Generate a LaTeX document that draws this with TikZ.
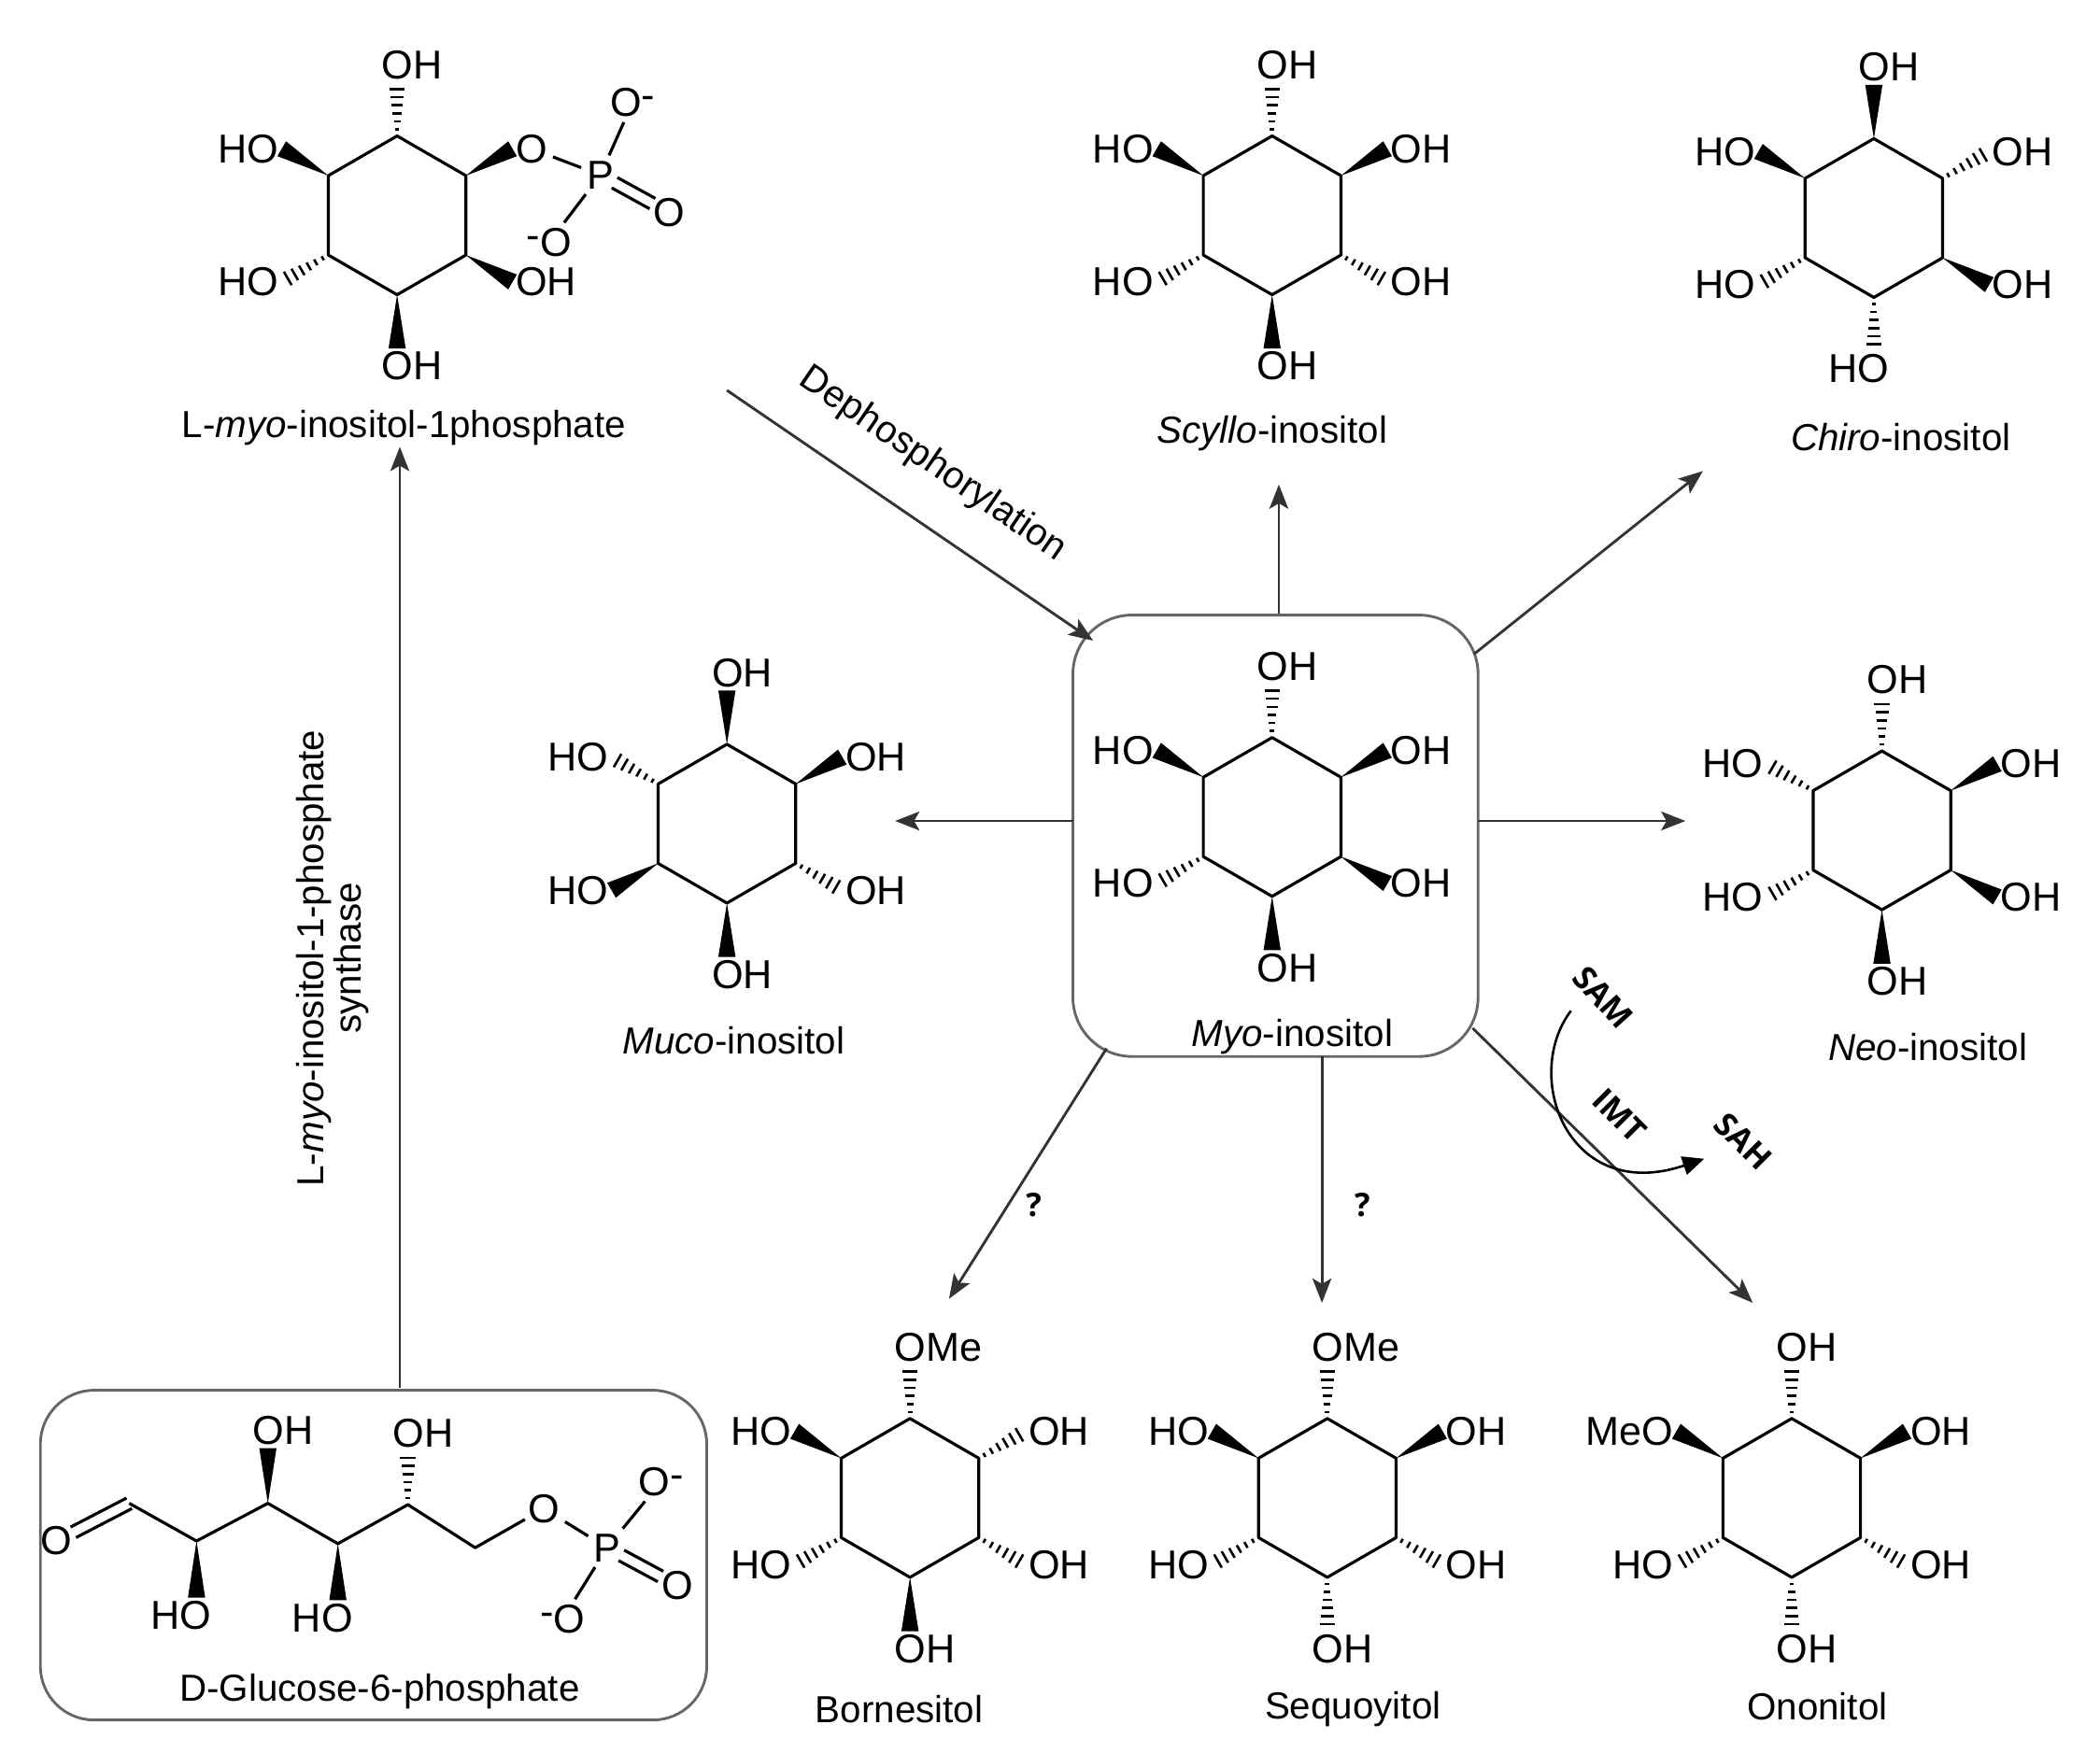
\documentclass[tikz,border=0pt]{standalone}
\usepackage{fontspec}
\setmainfont{Liberation Sans}
\newfontfamily\osf{Open Sans}
\usetikzlibrary{calc,arrows.meta}
\tikzset{
 bond/.style={line width=1.1pt,line join=round},
 atom/.style={font=\fontsize{15}{15}\selectfont,inner sep=1pt},
 mname/.style={font=\fontsize{14}{14}\selectfont,inner sep=1pt},
 conn/.style={line width=1pt,draw=black!80,-{Stealth[length=9pt,width=7pt,inset=2pt]}},
 frame/.style={draw=black!60,line width=1pt,rounded corners=22pt},
 small/.style={font=\osf\bfseries\fontsize{12}{12}\selectfont,inner sep=1pt}
}
\newcommand\bdw{\fill (v) -- ($(e)!3.2pt!90:(v)$) -- ($(e)!3.2pt!-90:(v)$) -- cycle;}
\newcommand\bdh{\foreach \tt in {0.12,0.27,0.42,0.57,0.72,0.87,1.0}{%
  \coordinate (p) at ($(v)!\tt!(e)$);
  \pgfmathsetmacro\ww{0.5+2.7*\tt}
  \draw[line width=0.9pt] ($(p)!\ww pt!90:(e)$) -- ($(p)!\ww pt!-90:(e)$);}}
\newcommand\bdp{\draw[bond] (v) -- (e);}
\newcommand\lbtop[1]{\node[atom,anchor=south west,xshift=-6.8pt] at (e) {#1};}
\newcommand\lbbot[1]{\edef\tmpa{#1}\def\tmpb{HO}%
  \ifx\tmpa\tmpb\node[atom,anchor=north east,xshift=6.8pt] at (e) {#1};%
  \else\node[atom,anchor=north west,xshift=-6.8pt] at (e) {#1};\fi}
\newcommand\lbright[1]{\node[atom,anchor=west] at (e) {#1};}
\newcommand\lbleft[1]{\node[atom,anchor=east] at (e) {#1};}
\expandafter\def\csname lb90\endcsname{\lbtop}
\expandafter\def\csname lb270\endcsname{\lbbot}
\expandafter\def\csname lb30\endcsname{\lbright}
\expandafter\def\csname lb330\endcsname{\lbright}
\expandafter\def\csname lb150\endcsname{\lbleft}
\expandafter\def\csname lb210\endcsname{\lbleft}
\newcommand\mol[4]{%
 \begin{scope}[shift={(#2,#3)}]
 \coordinate (#1) at (0,0);
 \draw[bond] (0,-59) -- (51.1,-29.5) -- (51.1,29.5) -- (0,59) -- (-51.1,29.5) -- (-51.1,-29.5) -- cycle;
 \foreach \a/\t/\l in {#4}{%
  \coordinate (v) at ({59*cos(\a)},{-59*sin(\a)});
  \coordinate (e) at ({99*cos(\a)},{-99*sin(\a)});
  \csname bd\t\endcsname
  \csname lb\a\endcsname{\l}
 }
 \end{scope}}
% double bond between two named nodes, shortened
\newcommand\dbl[4]{%
 \draw[bond,shorten <=#3,shorten >=#4] ($(#1)!2.2pt!90:(#2)$) -- ($(#2)!2.2pt!-90:(#1)$);
 \draw[bond,shorten <=#3,shorten >=#4] ($(#1)!2.2pt!-90:(#2)$) -- ($(#2)!2.2pt!90:(#1)$);}
\begin{document}
\begin{tikzpicture}[x=0.5pt,y=-0.5pt]
\useasboundingbox[fill=white] (0,0) rectangle (1560,1302.5);
% frames
\draw[frame] (797,457) rectangle (1098,785);
\draw[frame,rounded corners=20pt] (30,1033) rectangle (525,1278);
% molecules
\mol{m1}{295}{160}{90/h/OH,150/w/HO,210/h/HO,270/w/OH,330/w/OH}
\begin{scope}[shift={(295,160)}]
 \coordinate (v) at ({59*cos(30)},{-59*sin(30)});
 \coordinate (e) at ({99*cos(30)},{-99*sin(30)});
 \bdw
 \node[atom,anchor=west] (pO) at (e) {O};
\end{scope}
\node[atom] (pP) at (446,130) {P};
\node[atom] (pO1) at (470,76) {O\raisebox{0.35ex}{-}};
\node[atom] (pO2) at (497,158) {O};
\node[atom] (pO3) at (408,180) {\raisebox{0.35ex}{-}O};
\draw[bond,shorten <=1pt,shorten >=1pt] (pO) -- (pP);
\draw[bond,shorten <=1pt,shorten >=1pt] (pP) -- (pO1);
\draw[bond,shorten <=1pt,shorten >=1pt] (pP) -- (pO3);
\dbl{pP}{pO2}{6pt}{7pt}
\node[mname] (n1) at (300,318) {L-\textit{myo}-inositol-1phosphate};

\mol{m2}{945}{160}{90/h/OH,150/w/HO,30/w/OH,210/h/HO,330/h/OH,270/w/OH}
\node[mname] (n2) at (945,322) {\textit{Scyllo}-inositol};
\mol{m3}{1392}{162}{90/w/OH,150/w/HO,30/h/OH,210/h/HO,330/w/OH,270/h/HO}
\node[mname] (n3) at (1412,325) {\textit{Chiro}-inositol};
\mol{m4}{540}{612}{90/w/OH,150/h/HO,30/w/OH,210/w/HO,330/h/OH,270/w/OH}
\node[mname] (n4) at (545,773) {\textit{Muco}-inositol};
\mol{m5}{945}{607}{90/h/OH,150/w/HO,30/w/OH,210/h/HO,330/w/OH,270/w/OH}
\node[mname] (n5) at (960,770) {\textit{Myo}-inositol};
\mol{m6}{1398}{617}{90/h/OH,150/h/HO,30/w/OH,210/h/HO,330/w/OH,270/w/OH}
\node[mname] (n6) at (1432,778) {\textit{Neo}-inositol};
\mol{m7}{676}{1113}{90/h/OMe,150/w/HO,30/h/OH,210/h/HO,330/h/OH,270/w/OH}
\node[mname] (n7) at (668,1270) {Bornesitol};
\mol{m8}{986}{1113}{90/h/OMe,150/w/HO,30/w/OH,210/h/HO,330/h/OH,270/h/OH}
\node[mname] (n8) at (1005,1270) {Sequoyitol};
\mol{m9}{1331}{1113}{90/h/OH,150/w/MeO,30/w/OH,210/h/HO,330/h/OH,270/h/OH}
\node[mname] (n9) at (1350,1268) {Ononitol};

% glucose-6-phosphate
\node[atom] (gO) at (42,1145) {O};
\coordinate (c1) at (96,1117);
\coordinate (c2) at (146,1145);
\coordinate (c3) at (199,1117);
\coordinate (c4) at (251,1147);
\coordinate (c5) at (303,1118);
\coordinate (c6) at (353,1150);
\node[atom] (gO6) at (404,1121) {O};
\node[atom] (gP) at (451,1150) {P};
\node[atom] (gO1) at (491,1101) {O\raisebox{0.35ex}{-}};
\node[atom] (gO2) at (503,1178) {O};
\node[atom] (gO3) at (418,1203) {\raisebox{0.35ex}{-}O};
\draw[bond] (c1) -- (c2) -- (c3) -- (c4) -- (c5) -- (c6) -- (gO6);
\dbl{gO}{c1}{7pt}{0pt}
\draw[bond,shorten <=1pt,shorten >=1pt] (gO6) -- (gP);
\draw[bond,shorten <=1pt,shorten >=1pt] (gP) -- (gO1);
\draw[bond,shorten <=1pt,shorten >=1pt] (gP) -- (gO3);
\dbl{gP}{gO2}{6pt}{7pt}
\coordinate (v) at (c3); \coordinate (e) at (199,1076); \bdw
\node[atom,anchor=south west,xshift=-6.8pt] at (e) {OH};
\coordinate (v) at (c5); \coordinate (e) at (303,1078); \bdh
\node[atom,anchor=south west,xshift=-6.8pt] at (e) {OH};
\coordinate (v) at (c2); \coordinate (e) at (146,1187); \bdw
\node[atom,anchor=north east,xshift=6.8pt] at (e) {HO};
\coordinate (v) at (c4); \coordinate (e) at (251,1189); \bdw
\node[atom,anchor=north east,xshift=6.8pt] at (e) {HO};
\node[mname] (n10) at (282,1257) {D-Glucose-6-phosphate};

% connectors
\coordinate (a1s) at (297,1031); \coordinate (a1e) at (297,332);
\draw[conn] (a1s) -- (a1e);
\node[mname,rotate=90,align=center] at (247,712) {L-\textit{myo}-inositol-1-phosphate\\synthase};
\coordinate (a2s) at (540,290); \coordinate (a2e) at (812,476);
\draw[conn] (a2s) -- (a2e);
\node[mname,rotate=-34.4] at (693,345) {Dephosphorylation};
\coordinate (a3s) at (950,456); \coordinate (a3e) at (950,360);
\draw[conn] (a3s) -- (a3e);
\coordinate (a4s) at (1095,486); \coordinate (a4e) at (1265,350);
\draw[conn] (a4s) -- (a4e);
\coordinate (a5s) at (1098,610); \coordinate (a5e) at (1252,610);
\draw[conn] (a5s) -- (a5e);
\coordinate (a6s) at (797,610); \coordinate (a6e) at (665,610);
\draw[conn] (a6s) -- (a6e);
\coordinate (a7s) at (822,779); \coordinate (a7e) at (705,965);
\draw[conn] (a7s) -- (a7e);
\node[small] at (768,895) {?};
\coordinate (a8s) at (982,785); \coordinate (a8e) at (982,968);
\draw[conn] (a8s) -- (a8e);
\node[small] at (1012,895) {?};
\coordinate (a9s) at (1094,764); \coordinate (a9e) at (1302,968);
\draw[conn] (a9s) -- (a9e);
\coordinate (s1) at (1167,751); \coordinate (s2) at (1266,861);
\draw[line width=0.9pt,-{Triangle[length=8pt,width=7pt]}] (s1) .. controls (1130,800) and (1165,895) .. (s2);
\node[small,rotate=-48] at (1191,741) {SAM};
\node[small,rotate=-45] at (1203,829) {IMT};
\node[small,rotate=-45] at (1295,848) {SAH};
\end{tikzpicture}
\end{document}
